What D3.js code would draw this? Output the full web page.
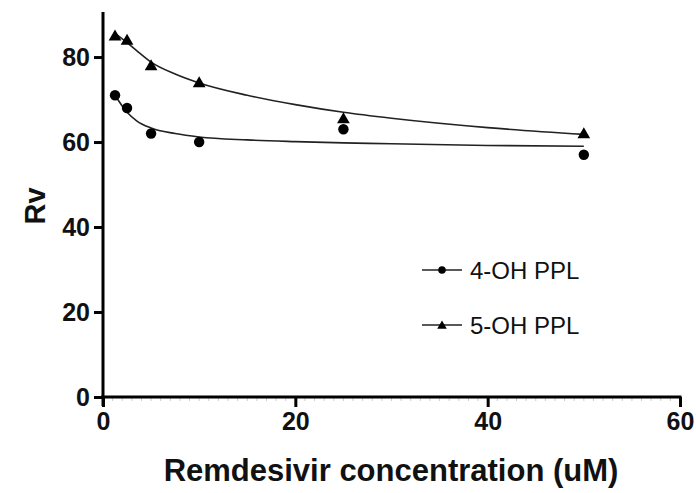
<!DOCTYPE html>
<html lang="en">
<head>
    <meta charset="UTF-8">
    <script src="https://d3js.org/d3.v7.min.js"></script>
    <title>Rv vs Remdesivir</title>
    <style>
        body { margin: 0; background: #fff; }
        text { font-family: "Liberation Sans", Arial, sans-serif; }
    </style>
</head>
<body>
<svg width="696" height="493"></svg>
<script>
    // measured points
    const conc = [1.25, 2.5, 5, 10, 25, 50];
    const oh4 = [71, 68, 62, 60, 63, 57];
    const oh5 = [85, 84, 78, 74, 65.5, 62];

    // fitted curves
    const fitX = [1.25, 2.5, 3.5, 5, 7.5, 10, 15, 20, 25, 30, 40, 50];
    const fit4 = [71, 67, 65, 63.3, 62, 61.2, 60.5, 60.1, 59.8, 59.6, 59.2, 59.0];
    const fit5 = [85.6, 83.4, 81.5, 78.8, 76, 73.9, 71, 68.8, 67.0, 65.6, 63.4, 61.8];

    const xTicks = [0, 20, 40, 60];
    const yTicks = [0, 20, 40, 60, 80];
    const seriesNames = ["4-OH PPL", "5-OH PPL"];

    const svg = d3.select("svg");

    const x = d3.scaleLinear().domain([0, 60]).range([103, 680]);
    const y = d3.scaleLinear().domain([0, 90.6]).range([397, 12]);

    // minor ticks on x axis (faint)
    svg.append("g")
        .attr("transform", "translate(0,397)")
        .selectAll("line")
        .data(d3.range(0, 61, 1))
        .join("line")
        .attr("x1", d => x(d)).attr("x2", d => x(d))
        .attr("y1", 0).attr("y2", 4)
        .attr("stroke", "#ccc").attr("stroke-width", 1);

    const xAxis = svg.append("g")
        .attr("transform", "translate(0,397)")
        .call(d3.axisBottom(x).tickValues(xTicks).tickSize(10).tickPadding(5).tickSizeOuter(0));
    const yAxis = svg.append("g")
        .attr("transform", "translate(103,0)")
        .call(d3.axisLeft(y).tickValues(yTicks).tickSize(9).tickPadding(4).tickSizeOuter(0));

    [xAxis, yAxis].forEach(g => {
        g.select(".domain").attr("stroke", "#000").attr("stroke-width", 3);
        g.selectAll(".tick line").attr("stroke", "#000").attr("stroke-width", 3);
        g.selectAll(".tick text")
            .attr("fill", "#111")
            .style("font-size", "25px")
            .style("font-weight", "bold");
    });
    // y axis runs a little below the x axis
    yAxis.select(".domain").attr("d", `M0,${y(90.6)}V${y(0) + 9}`);
    xAxis.select(".domain").attr("d", `M${x(0) - 2},0H${x(60) + 1.5}`);

    // fitted curves
    const line = d3.line().x(d => x(d[0])).y(d => y(d[1])).curve(d3.curveMonotoneX);
    [fit4, fit5].forEach(f => {
        svg.append("path")
            .attr("d", line(fitX.map((v, i) => [v, f[i]])))
            .attr("fill", "none")
            .attr("stroke", "#222")
            .attr("stroke-width", 1.6);
    });

    const circle = d3.symbol().type(d3.symbolCircle).size(85);
    const tri = d3.symbol().type(d3.symbolTriangle).size(70);

    svg.append("g").selectAll("path")
        .data(conc.map((c, i) => [c, oh4[i]]))
        .join("path")
        .attr("d", circle)
        .attr("transform", d => `translate(${x(d[0])},${y(d[1])})`)
        .attr("fill", "#000");
    svg.append("g").selectAll("path")
        .data(conc.map((c, i) => [c, oh5[i]]))
        .join("path")
        .attr("d", tri)
        .attr("transform", d => `translate(${x(d[0])},${y(d[1]) + 1})`)
        .attr("fill", "#000");

    // legend
    const legend = svg.append("g");
    const symbols = [d3.symbol().type(d3.symbolCircle).size(45), d3.symbol().type(d3.symbolTriangle).size(40)];
    seriesNames.forEach((name, i) => {
        const ly = 270 + i * 55;
        legend.append("line")
            .attr("x1", 422).attr("x2", 462)
            .attr("y1", ly).attr("y2", ly)
            .attr("stroke", "#222").attr("stroke-width", 1.6);
        legend.append("path")
            .attr("d", symbols[i])
            .attr("transform", `translate(442,${ly + (i ? 1 : 0)})`)
            .attr("fill", "#000");
        legend.append("text")
            .attr("x", 470).attr("y", ly + 9)
            .attr("fill", "#111")
            .style("font-size", "24px")
            .text(name);
    });

    // axis titles
    svg.append("text")
        .attr("x", 391).attr("y", 481)
        .attr("text-anchor", "middle")
        .attr("fill", "#111")
        .style("font-size", "31px")
        .style("font-weight", "bold")
        .text("Remdesivir concentration (uM)");
    svg.append("text")
        .attr("transform", "translate(45,206) rotate(-90)")
        .attr("text-anchor", "middle")
        .attr("fill", "#111")
        .style("font-size", "29px")
        .style("font-weight", "bold")
        .text("Rv");
</script>
</body>
</html>
